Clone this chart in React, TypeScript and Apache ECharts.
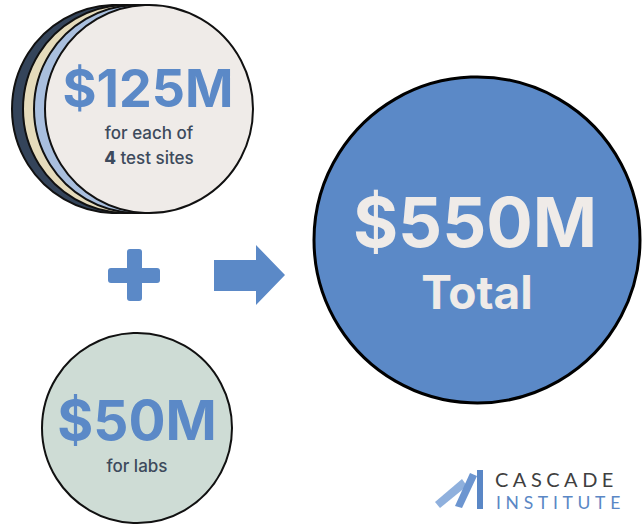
import React, { useEffect, useRef } from "react";
import * as echarts from "echarts";

// Values
const siteFunding = ["$125M"];
const siteCount = [4];
const labFunding = ["$50M"];
const totalFunding = ["$550M"];
const siteLabel = ["for each of", "test sites"];
const labLabel = ["for labs"];
const totalLabel = ["Total"];
const logoWords = ["CASCADE", "INSTITUTE"];
const stackColors = ["#34445A", "#E5DBBB", "#A9BFDE", "#EFEBE8"];

const BLUE = "#5B89C7";
const DARK = "#3D4A5C";
const FONT = "Inter, 'Noto Sans', sans-serif";

export default function App() {
  const ref = useRef<HTMLDivElement>(null);
  useEffect(() => {
    if (!ref.current) return;
    const chart = echarts.init(ref.current, undefined, { renderer: "svg" });

    const stack: any[] = stackColors.map((c, i) => ({
      type: "circle",
      shape: { cx: 116 + i * 11, cy: 109, r: 104 },
      style: { fill: c, stroke: "#111", lineWidth: 2 },
    }));

    const elements: any[] = [
      ...stack,
      {
        type: "text",
        style: {
          text: siteFunding[0], x: 148, y: 88, textAlign: "center", textVerticalAlign: "middle",
          fill: BLUE, fontSize: 52, fontWeight: 700, fontFamily: FONT, lineHeight: 44,
        },
      },
      {
        type: "text",
        style: {
          text: siteLabel[0], x: 149, y: 133, textAlign: "center", textVerticalAlign: "middle",
          fill: DARK, fontSize: 17, fontWeight: 500, fontFamily: FONT, lineHeight: 18,
        },
      },
      {
        type: "text",
        style: {
          text: "{b|" + siteCount[0] + "} " + siteLabel[1], x: 149, y: 158, textAlign: "center", textVerticalAlign: "middle",
          fill: DARK, fontSize: 17, fontWeight: 500, fontFamily: FONT, lineHeight: 18,
          rich: { b: { fontSize: 17, fontWeight: 800, fontFamily: FONT, fill: DARK, lineHeight: 18 } },
        },
      },
      // plus sign
      { type: "rect", shape: { x: 108, y: 268, width: 52, height: 15, r: 3 }, style: { fill: BLUE } },
      { type: "rect", shape: { x: 127, y: 249, width: 15, height: 52, r: 3 }, style: { fill: BLUE } },
      // arrow
      {
        type: "polygon",
        shape: { points: [[214, 260], [256, 260], [256, 245], [285, 275], [256, 305], [256, 291], [214, 291]] },
        style: { fill: BLUE },
      },
      // total circle
      { type: "circle", shape: { cx: 477, cy: 240, r: 163 }, style: { fill: BLUE, stroke: "#000", lineWidth: 3 } },
      {
        type: "text",
        style: {
          text: totalFunding[0], x: 475, y: 222, textAlign: "center", textVerticalAlign: "middle",
          fill: "#EFEBE8", fontSize: 69, fontWeight: 700, fontFamily: FONT, lineHeight: 56,
        },
      },
      {
        type: "text",
        style: {
          text: totalLabel[0], x: 477, y: 292, textAlign: "center", textVerticalAlign: "middle",
          fill: "#EFEBE8", fontSize: 46, fontWeight: 700, fontFamily: FONT, lineHeight: 38,
        },
      },
      // labs circle
      { type: "circle", shape: { cx: 137, cy: 428, r: 95 }, style: { fill: "#CEDCD5", stroke: "#111", lineWidth: 2 } },
      {
        type: "text",
        style: {
          text: labFunding[0], x: 137, y: 420, textAlign: "center", textVerticalAlign: "middle",
          fill: BLUE, fontSize: 55, fontWeight: 700, fontFamily: FONT, lineHeight: 46,
        },
      },
      {
        type: "text",
        style: {
          text: labLabel[0], x: 137, y: 466, textAlign: "center", textVerticalAlign: "middle",
          fill: DARK, fontSize: 17, fontWeight: 500, fontFamily: FONT, lineHeight: 18,
        },
      },
      // logo marks
      { type: "polygon", shape: { points: [[435, 502], [440, 508], [467, 486], [462, 479]] }, style: { fill: "#8FB0DD" } },
      { type: "polygon", shape: { points: [[455, 506], [462, 508], [477, 476], [470, 473]] }, style: { fill: "#6C95D0" } },
      { type: "rect", shape: { x: 477, y: 470, width: 6, height: 39 }, style: { fill: "#5A87C6" } },
      {
        type: "text",
        style: {
          text: logoWords[0], x: 495, y: 479, textAlign: "left", textVerticalAlign: "middle",
          fill: "#3f3f3f", fontSize: 20, fontWeight: 400, fontFamily: "Lato, sans-serif", lineHeight: 18,
        },
      },
      {
        type: "text",
        style: {
          text: logoWords[1], x: 496, y: 502, textAlign: "left", textVerticalAlign: "middle",
          fill: "#5a87c5", fontSize: 17.5, fontWeight: 400, fontFamily: "Lato, sans-serif", lineHeight: 16,
        },
      },
    ];

    chart.setOption({ animation: false, graphic: { elements } });
    return () => chart.dispose();
  }, []);

  return (
    <>
      <style>{`body{margin:0;} text[fill="#3f3f3f"]{letter-spacing:4.5px;} text[fill="#5a87c5"]{letter-spacing:4.7px;}`}</style>
      <div ref={ref} style={{ width: 644, height: 525 }} />
    </>
  );
}
